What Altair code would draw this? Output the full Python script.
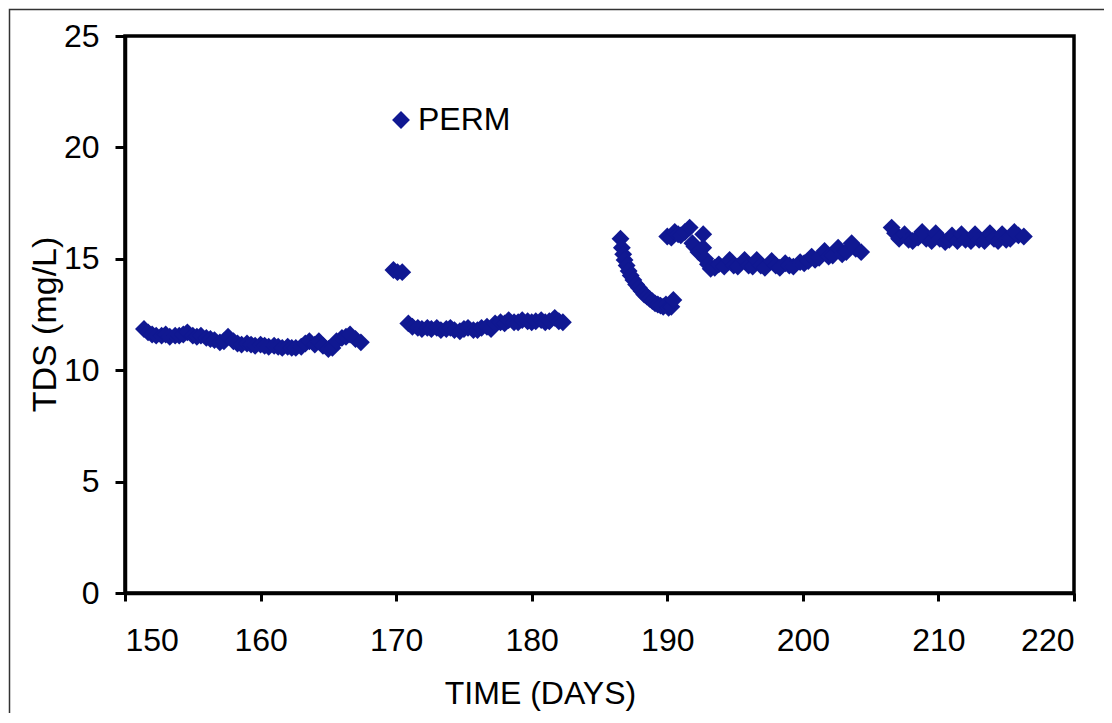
import altair as alt
import pandas as pd

# ---- data ----
seg1_day = [151.4, 151.7, 152.0, 152.3, 152.7, 153.0, 153.3, 153.7, 154.0, 154.3,
            154.6, 155.0, 155.3, 155.6, 156.0, 156.3, 156.6, 157.0, 157.3, 157.6,
            158.0, 158.3, 158.6, 159.0, 159.3, 159.6, 160.0, 160.3, 160.6, 161.0,
            161.3, 161.6, 162.0, 162.3, 162.6, 163.0, 163.3, 163.6, 164.0, 164.3,
            164.6, 165.0, 165.3, 165.6, 166.0, 166.3, 166.6, 167.0, 167.4]
seg1_tds = [11.85, 11.7, 11.6, 11.55, 11.55, 11.6, 11.5, 11.55, 11.55, 11.6,
            11.7, 11.55, 11.5, 11.55, 11.45, 11.4, 11.35, 11.25, 11.3, 11.5,
            11.3, 11.2, 11.15, 11.2, 11.15, 11.1, 11.15, 11.1, 11.05, 11.1,
            11.05, 11.0, 11.05, 11.0, 11.0, 11.05, 11.2, 11.3, 11.15, 11.3,
            11.1, 10.95, 11.0, 11.3, 11.45, 11.5, 11.6, 11.4, 11.25]

seg2_day = [169.8, 170.1, 170.45]
seg2_tds = [14.5, 14.4, 14.4]

seg3_day = [170.9, 171.2, 171.6, 171.9, 172.3, 172.6, 173.0, 173.3, 173.7, 174.0,
            174.3, 174.7, 175.0, 175.3, 175.7, 176.0, 176.3, 176.7, 177.0, 177.3,
            177.7, 178.0, 178.3, 178.7, 179.0, 179.3, 179.7, 180.0, 180.3, 180.7,
            181.0, 181.3, 181.7, 182.0, 182.3]
seg3_tds = [12.1, 11.95, 11.9, 11.85, 11.9, 11.85, 11.9, 11.8, 11.85, 11.9,
            11.8, 11.75, 11.85, 11.9, 11.8, 11.8, 11.9, 11.95, 11.85, 12.1,
            12.15, 12.1, 12.25, 12.15, 12.15, 12.25, 12.2, 12.15, 12.2, 12.25,
            12.15, 12.2, 12.35, 12.2, 12.15]

seg4_day = [186.55, 186.65, 186.75, 186.85, 187.0, 187.15, 187.3, 187.5, 187.7, 187.9,
            188.1, 188.3, 188.5, 188.7, 188.9, 189.1, 189.3, 189.5, 189.7, 189.9,
            190.1, 190.3, 190.45]
seg4_tds = [15.9, 15.5, 15.2, 14.95, 14.7, 14.45, 14.25, 14.05, 13.85, 13.7,
            13.55, 13.4, 13.3, 13.2, 13.1, 13.0, 12.95, 12.9, 12.85, 12.95,
            12.8, 12.85, 13.15]

seg5_day = [190.0, 190.3, 190.55, 190.8, 191.0, 191.3, 191.65, 191.85, 192.0, 192.3,
            192.65, 192.65, 192.8, 193.0, 193.2, 193.5, 193.8, 194.2, 194.6, 194.9,
            195.2, 195.7, 196.0, 196.3, 196.6, 196.9, 197.2, 197.7, 198.0, 198.3,
            198.7, 199.0, 199.3, 199.8, 200.1, 200.4, 200.65, 200.9, 201.2, 201.6,
            201.9, 202.2, 202.6, 202.9, 203.2, 203.6, 203.9, 204.3]
seg5_tds = [16.0, 15.95, 16.2, 16.1, 16.05, 16.2, 16.4, 15.7, 15.55, 15.3,
            16.1, 15.5, 15.0, 14.75, 14.55, 14.6, 14.75, 14.65, 14.95, 14.7,
            14.65, 14.95, 14.7, 14.65, 14.95, 14.7, 14.6, 14.9, 14.7, 14.6,
            14.8, 14.7, 14.65, 14.85, 14.8, 14.9, 15.1, 14.95, 15.05, 15.35,
            15.1, 15.15, 15.5, 15.2, 15.3, 15.7, 15.45, 15.3]

seg6_day = [206.55, 206.8, 207.1, 207.5, 207.8, 208.1, 208.5, 208.8, 209.1, 209.5,
            209.8, 210.1, 210.5, 210.8, 211.0, 211.4, 211.7, 212.0, 212.4, 212.7,
            213.0, 213.4, 213.8, 214.1, 214.4, 214.7, 215.0, 215.3, 215.6, 215.9,
            216.3]
seg6_tds = [16.4, 16.15, 15.9, 16.1, 15.85, 15.8, 15.95, 16.2, 15.9, 15.8,
            16.15, 15.9, 15.75, 15.85, 16.05, 15.8, 16.1, 15.85, 15.8, 16.1,
            15.85, 15.8, 16.15, 15.9, 15.8, 16.1, 15.85, 15.9, 16.2, 16.05,
            16.0]

x_ticks = [150, 160, 170, 180, 190, 200, 210, 220]
y_ticks = [0, 5, 10, 15, 20, 25]
series_name = "PERM"

days = seg1_day + seg2_day + seg3_day + seg4_day + seg5_day + seg6_day
tds = seg1_tds + seg2_tds + seg3_tds + seg4_tds + seg5_tds + seg6_tds
df = pd.DataFrame({"day": days, "tds": tds, "series": [series_name] * len(days)})

FONT = "Liberation Sans"
BLUE = "#101892"
SYM = 320

points = alt.Chart(df).mark_point(
    shape="diamond", filled=True, size=SYM, opacity=1
).encode(
    x=alt.X("day:Q",
            scale=alt.Scale(domain=[150, 220], nice=False, zero=False),
            axis=alt.Axis(values=x_ticks, title="TIME (DAYS)", tickSize=8,
                          labelPadding=24, titlePadding=22, titleX=415, grid=False)),
    y=alt.Y("tds:Q",
            scale=alt.Scale(domain=[0, 25], nice=False),
            axis=alt.Axis(values=y_ticks, title="TDS (mg/L)", tickSize=10,
                          labelPadding=16, titlePadding=1, titleY=288,
                          titleFontSize=34, grid=False)),
    color=alt.Color("series:N", scale=alt.Scale(range=[BLUE]),
                    legend=alt.Legend(title=None, orient="none", legendX=260, legendY=68,
                                      symbolType="diamond", symbolSize=SYM,
                                      symbolStrokeWidth=0, labelFontSize=32,
                                      labelFont=FONT, labelColor="black",
                                      labelOffset=1, padding=0)),
)

# thin outer frame of the original figure
border = alt.Chart(pd.DataFrame({"k": [0]})).mark_rect(
    fill="white", fillOpacity=0, stroke="#333333", strokeWidth=1.5
).encode(
    x=alt.value(-115.5), y=alt.value(-26.5), x2=alt.value(1000), y2=alt.value(700)
)

chart = alt.layer(border, points).properties(
    width=949, height=557,
    autosize=alt.AutoSizeParams(type="none"),
    padding={"left": 117, "top": 28, "right": 30, "bottom": 120},
    background="white",
).configure_view(
    stroke="black", strokeWidth=3.5
).configure_axis(
    domainColor="black", domainWidth=3.5, tickColor="black", tickWidth=3,
    labelFont=FONT, labelFontSize=32, labelColor="black",
    titleFont=FONT, titleFontSize=32, titleFontWeight="normal", titleColor="black",
)

chart.save("out.html", embed_options={"renderer": "svg", "actions": False})
